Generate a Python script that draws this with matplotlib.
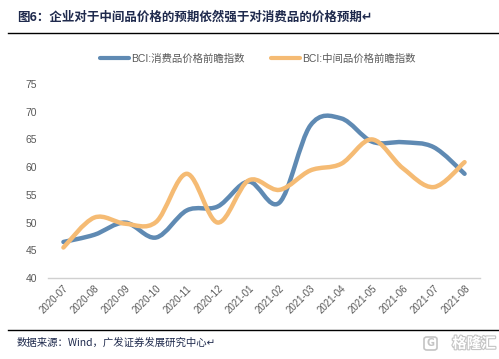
import matplotlib
matplotlib.use("Agg")
import matplotlib.pyplot as plt
from matplotlib.path import Path
from matplotlib.patches import PathPatch, FancyBboxPatch
from matplotlib.lines import Line2D
import matplotlib.patheffects as pe
import numpy as np

months = ["2020-07", "2020-08", "2020-09", "2020-10", "2020-11", "2020-12",
          "2021-01", "2021-02", "2021-03", "2021-04", "2021-05", "2021-06",
          "2021-07", "2021-08"]
consumer = [46.5, 47.8, 50.0, 47.3, 52.2, 52.9, 57.4, 53.6, 67.5, 68.8, 64.6, 64.5, 63.6, 58.8]
intermediate = [45.5, 50.9, 49.8, 50.1, 58.8, 50.0, 57.6, 55.9, 59.4, 60.6, 65.0, 59.8, 56.4, 60.9]
yticks = [40, 45, 50, 55, 60, 65, 70, 75]

label_consumer = "BCI:消费品价格前瞻指数"
label_inter = "BCI:中间品价格前瞻指数"
title = "图6：企业对于中间品价格的预期依然强于对消费品的价格预期\u21b5"
source = "数据来源：Wind，广发证券发展研究中心\u21b5"

BLUE = "#5f8ab3"
ORANGE = "#f5bb74"
GRAY = "#595959"


def smooth_path(xs, ys):
    pts = np.column_stack([xs, ys]).astype(float)
    n = len(pts)
    verts = [pts[0]]
    codes = [Path.MOVETO]
    for i in range(n - 1):
        p0 = pts[i - 1] if i > 0 else pts[i]
        p1 = pts[i]
        p2 = pts[i + 1]
        p3 = pts[i + 2] if i + 2 < n else pts[i + 1]
        c1 = p1 + (p2 - p0) / 6.0
        c2 = p2 - (p3 - p1) / 6.0
        verts += [c1, c2, p2]
        codes += [Path.CURVE4] * 3
    return Path(verts, codes)


fig = plt.figure(figsize=(4.99, 3.59), dpi=100)
ax = fig.add_axes([48 / 499, 1 - 278 / 359, (480 - 48) / 499, (278 - 84) / 359])

x = np.arange(len(months))
for ys, col in [(consumer, BLUE), (intermediate, ORANGE)]:
    patch = PathPatch(smooth_path(x, ys), facecolor="none", edgecolor=col,
                      lw=3.2, capstyle="round", joinstyle="round")
    ax.add_patch(patch)

ax.set_xlim(-0.5, len(months) - 0.5)
ax.set_ylim(40, 75)
ax.set_yticks(yticks)
ax.set_yticklabels([str(v) for v in yticks], fontsize=7.5, color=GRAY,
                   family=["Liberation Sans"])
ax.set_xticks(x)
ax.set_xticklabels(months, rotation=45, ha="right", rotation_mode="anchor",
                   fontsize=7, color=GRAY, family=["Liberation Sans"])
ax.tick_params(axis="both", length=0, pad=8)
ax.tick_params(axis="x", pad=4)
for s in ["top", "right", "left"]:
    ax.spines[s].set_visible(False)
ax.spines["bottom"].set_color("#d0d0d0")
ax.spines["bottom"].set_linewidth(1.0)

# legend
handles = [Line2D([0], [0], color=BLUE, lw=3, solid_capstyle="round"),
           Line2D([0], [0], color=ORANGE, lw=3, solid_capstyle="round")]
leg = fig.legend(handles, [label_consumer, label_inter], loc="center",
                 bbox_to_anchor=(258 / 499, 1 - 59 / 359), ncol=2, frameon=False,
                 handlelength=2.8, handletextpad=0.2, columnspacing=2.5,
                 prop={"family": ["Liberation Sans", "Noto Sans CJK SC"], "size": 7.5})
for t in leg.get_texts():
    t.set_color(GRAY)

# title and rules
fig.text(17 / 499, 1 - 17 / 359, title, fontsize=9, fontweight="bold",
         color="#1f2a4d", va="center", ha="left",
         family=["Noto Sans CJK SC", "DejaVu Sans"])
fig.add_artist(Line2D([8 / 499, 1.0], [1 - 33 / 359, 1 - 33 / 359],
                      color="black", lw=1.0, transform=fig.transFigure))
fig.add_artist(Line2D([8 / 499, 1.0], [1 - 330 / 359, 1 - 330 / 359],
                      color="black", lw=1.0, transform=fig.transFigure))
fig.text(17 / 499, 1 - 343 / 359, source, fontsize=7.5, color="#1f2a4d",
         va="center", ha="left", family=["Noto Sans CJK SC", "DejaVu Sans"])

# watermark
wm = fig.text(496 / 499, 1 - 343 / 359, "格隆汇", fontsize=10.5, color="white",
              va="center", ha="right", fontweight="bold",
              family=["Noto Sans CJK SC", "DejaVu Sans"])
wm.set_path_effects([pe.Stroke(linewidth=1.6, foreground="#c4c4c4"), pe.Normal()])
fig.add_artist(FancyBboxPatch((424 / 499, 1 - 350 / 359), 13 / 499, 13 / 359,
                              boxstyle="round,pad=0,rounding_size=0.006",
                              transform=fig.transFigure, facecolor="white",
                              edgecolor="#c4c4c4", lw=1.2))
fig.text(430.5 / 499, 1 - 343.5 / 359, "G", fontsize=7, color="#c4c4c4",
         va="center", ha="center", fontweight="bold", family=["DejaVu Sans"])

fig.savefig("out.png", dpi=100)
